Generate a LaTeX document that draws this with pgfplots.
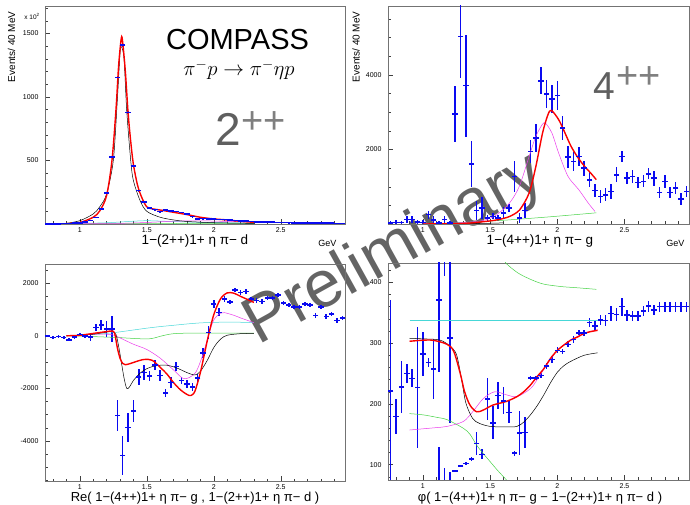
\documentclass[border=0pt]{standalone}
\usepackage{pgfplots}
\usepackage{pgfplotstable}
\pgfplotsset{compat=1.18}
\usepackage{fontspec}
\setmainfont{Liberation Sans}

\definecolor{rblue}{RGB}{10,10,240}
\definecolor{rred}{RGB}{250,0,0}
\definecolor{rgreen}{RGB}{70,210,70}
\definecolor{rcyan}{RGB}{70,215,215}
\definecolor{rmag}{RGB}{235,60,235}
\definecolor{wm}{RGB}{100,100,100}
\definecolor{bigtxt}{RGB}{95,95,95}

% data: bin centre x, value y, error e
\pgfplotstableread{
x y e
0.76 1 1
0.80 2 1
0.84 2 1
0.88 3 1
0.92 4 1
0.96 6 2
1.00 10 2
1.04 16 3
1.08 28 4
1.12 52 5
1.16 118 6
1.20 242 8
1.24 526 10
1.28 1153 14
1.32 1408 15
1.36 877 12
1.40 455 9
1.44 263 7
1.48 171 6
1.52 126 5
1.56 113 5
1.60 98 5
1.64 110 5
1.68 100 5
1.72 97 5
1.76 92 5
1.80 79 4
1.84 58 4
1.88 40 4
1.92 42 4
1.96 40 4
2.00 38 3
2.04 36 3
2.08 35 3
2.12 30 3
2.16 27 3
2.20 24 3
2.24 22 3
2.28 20 3
2.32 18 2
2.36 17 2
2.40 16 2
2.44 14 2
2.48 13 2
2.52 12 2
2.56 11 2
2.60 10 2
2.64 9 2
2.68 9 2
2.72 8 2
2.76 7 2
2.80 7 2
2.84 6 2
2.88 6 2
2.92 5 2
2.96 5 2
}\dtwo

\pgfplotstableread{
x y e
0.76 30 40
0.80 45 50
0.84 40 50
0.88 116 90
0.92 120 90
0.96 50 50
1.00 40 60
1.04 250 110
1.08 110 100
1.12 30 50
1.16 116 100
1.20 25 50
1.24 2946 750
1.28 5027 1100
1.32 3714 1370
1.36 1616 620
1.40 366 250
1.44 428 300
1.48 160 90
1.52 205 80
1.56 160 80
1.60 295 150
1.64 428 100
1.68 1277 420
1.72 160 130
1.76 357 200
1.80 1946 320
1.84 2304 370
1.88 3840 360
1.92 3482 370
1.96 3348 370
2.00 3446 380
2.04 2571 330
2.08 1795 300
2.12 1679 250
2.16 1813 250
2.20 1500 200
2.24 1188 200
2.28 902 180
2.32 741 180
2.36 786 180
2.40 875 200
2.44 1321 200
2.48 1813 150
2.52 1232 170
2.56 1277 170
2.60 1116 150
2.64 1143 160
2.68 1348 150
2.72 1232 200
2.76 848 150
2.80 1143 170
2.84 848 150
2.88 964 160
2.92 670 150
2.96 875 150
}\dfour

\pgfplotstableread{
x y e
0.76 0 40
0.80 -63 40
0.84 -25 40
0.88 -63 40
0.92 -152 60
0.96 -50 60
1.00 50 60
1.04 0 80
1.08 -50 150
1.12 317 150
1.16 418 200
1.20 254 300
1.24 254 500
1.28 -3030 600
1.32 -4552 730
1.36 -3487 560
1.40 -2853 410
1.44 -1572 300
1.48 -1395 270
1.52 -1522 200
1.56 -1103 180
1.60 -1509 200
1.64 -2181 150
1.68 -1775 200
1.72 -1167 170
1.76 -1699 150
1.80 -1826 150
1.84 -1953 150
1.88 -1610 150
1.92 -659 200
1.96 127 250
2.00 1217 150
2.04 888 150
2.08 1395 100
2.12 1281 80
2.16 1750 80
2.20 1648 80
2.24 1686 80
2.28 1395 80
2.32 1344 80
2.36 1306 80
2.40 1433 80
2.44 1433 80
2.48 1560 80
2.52 1243 80
2.56 1179 80
2.60 1090 80
2.64 1090 80
2.68 1217 80
2.72 1179 80
2.76 773 80
2.80 1090 80
2.84 735 80
2.88 824 80
2.92 583 80
2.96 672 80
}\dre

\pgfplotstableread{
x y e
0.76 221 150
0.80 179 29
0.84 228 43
0.88 250 15
0.92 242 15
0.96 227 100
1.00 282 36
1.04 268 8
1.08 257 49
1.12 371 118
1.16 432 22
1.20 308 140
1.12 11 118
1.16 72 22
1.20 -52 140
1.24 90 2
1.28 98 2
1.32 102 2
1.36 109 3
1.40 135 19
1.44 117 8
1.48 208 35
1.52 169 27
1.56 214 22
1.60 205 22
1.64 186 18
1.68 119 4
1.72 152 36
1.76 153 26
1.80 243 3
1.84 243 3
1.88 247 4
1.92 262 5
1.96 273 5
2.00 288 5
2.04 286 4
2.08 298 5
2.12 306 5
2.16 317 4
2.20 317 5
2.24 334 8
2.28 328 8
2.32 338 9
2.36 337 9
2.40 349 12
2.44 347 10
2.48 360 15
2.52 346 9
2.56 345 8
2.60 345 8
2.64 353 8
2.68 361 9
2.72 354 8
2.76 360 8
2.80 360 8
2.84 360 8
2.88 360 8
2.92 360 8
2.96 360 8
}\dphi

\pgfplotsset{
  pad/.style={
    scale only axis, width=301pt, height=218pt,
    xmin=0.74, xmax=2.98,
    xtick={1,1.5,2,2.5},
    minor xtick={0.8,0.9,1.1,1.2,1.3,1.4,1.6,1.7,1.8,1.9,2.1,2.2,2.3,2.4,2.6,2.7,2.8,2.9},
    tick align=inside, tick pos=left,
    major tick length=5pt, minor tick length=2.5pt,
    every tick/.style={black!75, line width=0.4pt},
    axis line style={black!55, line width=0.5pt},
    ticklabel style={font=\fontsize{7}{8}\selectfont},
    yticklabel style={xshift=-3pt},
    /pgf/number format/assume math mode=true,
    /pgf/number format/1000 sep={},
    scaled ticks=false,
  },
  % ROOT crosses: horizontal bin bar as mark, vertical error bar
  pts/.style={color=rblue, only marks, mark=-, mark size=2.7pt,
    mark options={line width=1.6pt},
    error bars/.cd, y dir=both, y explicit, error mark=none,
    error bar style={line width=1.6pt}},
  fitred/.style={rred, line width=1.4pt, smooth, no marks},
  comp/.style={line width=0.5pt, smooth, no marks},
}

\begin{document}
\begin{tikzpicture}
\path[use as bounding box] (0pt,0pt) rectangle (690pt,505pt);

% watermark behind the pads
\node[text=wm, rotate=29, font=\fontsize{66}{66}\selectfont] at (395pt,254pt) {Preliminary};

% ---------------- top left: 2++ intensity
\begin{axis}[pad, at={(45pt,281pt)}, anchor=south west, width=300pt,
  ymin=0, ymax=1716, ytick={500,1000,1500}, minor ytick={100,200,...,1700}]
\addplot[pts] table[x=x, y=y, y error=e] {\dtwo};
\addplot[comp, rgreen] coordinates {(0.9,2) (1.3,3) (1.8,4) (2.3,4)};
\addplot[comp, rcyan] coordinates {(0.9,2) (1.2,10) (1.4,22) (1.5,26) (1.6,23) (1.8,16) (2.0,11) (2.3,6)};
\addplot[comp, rmag] coordinates {(0.9,1) (1.3,5) (1.5,12) (1.7,22) (1.9,25) (2.1,20) (2.3,15)};
\addplot[comp, black] coordinates {
(0.9,5) (1.0,26) (1.1,79) (1.15,137) (1.2,237) (1.25,500) (1.28,974) (1.30,1342)
(1.31,1395) (1.33,1303) (1.35,895) (1.38,500) (1.40,342) (1.45,184) (1.5,100)
(1.6,53) (1.7,32) (1.8,20) (2.0,10) (2.3,5)};
\addplot[fitred] coordinates {
(0.9,3) (1.0,12) (1.1,53) (1.15,105) (1.2,224) (1.24,500) (1.27,900) (1.29,1250)
(1.31,1465) (1.32,1430) (1.34,1200) (1.36,880) (1.38,650) (1.40,470) (1.43,310)
(1.46,215) (1.5,135) (1.55,118) (1.6,110) (1.7,92) (1.8,74) (1.9,53) (2.0,40)
(2.1,32) (2.2,21) (2.3,13)};
\end{axis}

% ---------------- top right: 4++ intensity
\begin{axis}[pad, at={(388pt,281pt)}, anchor=south west,
  ymin=0, ymax=5850, ytick={2000,4000}, minor ytick={500,1000,...,5500}]
\addplot[pts] table[x=x, y=y, y error=e] {\dfour};
\addplot[comp, black] coordinates {(1.0,0) (1.3,5) (1.5,20) (1.6,30)};
\addplot[comp, rgreen] coordinates {(1.0,0) (1.3,40) (1.6,100) (1.9,180) (2.1,240) (2.29,300)};
\addplot[comp, rmag] coordinates {
(1.0,5) (1.2,20) (1.3,40) (1.4,70) (1.47,115) (1.55,250) (1.644,562) (1.717,1008)
(1.79,1812) (1.84,2348) (1.89,2680) (1.913,2700) (1.96,2440) (2.01,1903) (2.08,1276)
(2.16,919) (2.23,563) (2.28,338)};
\addplot[fitred] coordinates {
(1.0,0) (1.3,15) (1.47,70) (1.55,110) (1.6,150) (1.65,210) (1.72,380) (1.79,830)
(1.84,1540) (1.89,2440) (1.93,2930) (1.956,3050) (2.01,2800) (2.05,2500) (2.1,2100)
(2.15,1800) (2.2,1560) (2.25,1360) (2.29,1190)};
\end{axis}

% ---------------- bottom left: Re interference
\begin{axis}[pad, at={(45pt,23.5pt)}, anchor=south west, width=300pt, height=217.5pt,
  ymin=-5540, ymax=2730, ytick={-4000,-2000,0,2000}, minor ytick={-5500,-5000,...,2500}]
\addplot[pts] table[x=x, y=y, y error=e] {\dre};
\addplot[comp, rcyan] coordinates {
(0.9,0) (1.0,20) (1.1,50) (1.2,90) (1.3,150) (1.4,220) (1.5,290) (1.6,350)
(1.7,400) (1.8,450) (1.9,490) (2.0,510) (2.1,520) (2.2,515) (2.3,500)};
\addplot[comp, rgreen] coordinates {
(0.9,0) (1.0,-10) (1.1,-30) (1.2,-50) (1.3,-70) (1.4,-100) (1.5,-120) (1.55,-90)
(1.6,-20) (1.65,40) (1.7,80) (1.8,100) (2.0,105) (2.3,100)};
\addplot[comp, rmag] coordinates {
(0.9,0) (1.0,20) (1.1,60) (1.2,60) (1.25,30) (1.3,-80) (1.4,-320) (1.5,-520)
(1.6,-850) (1.7,-1300) (1.77,-1620) (1.82,-1580) (1.87,-1350) (1.92,-700) (1.96,0)
(2.0,600) (2.05,860) (2.08,880) (2.15,780) (2.2,680) (2.3,500)};
\addplot[comp, black] coordinates {
(0.9,0) (1.0,20) (1.1,60) (1.2,140) (1.24,170) (1.27,50) (1.29,-400) (1.31,-1000)
(1.33,-1600) (1.35,-2000) (1.37,-1950) (1.40,-1700) (1.45,-1420) (1.5,-1250)
(1.55,-1160) (1.6,-1120) (1.65,-1120) (1.7,-1180) (1.75,-1280) (1.8,-1400)
(1.86,-1490) (1.9,-1350) (1.95,-950) (2.0,-450) (2.05,-130) (2.1,20) (2.2,80) (2.3,90)};
\addplot[fitred] coordinates {
(0.9,0) (1.0,20) (1.1,90) (1.2,160) (1.24,180) (1.26,100) (1.28,-450) (1.30,-850)
(1.32,-1050) (1.34,-1100) (1.38,-1050) (1.42,-980) (1.48,-900) (1.54,-930) (1.6,-1200)
(1.65,-1450) (1.7,-1780) (1.75,-2050) (1.8,-2230) (1.83,-2270) (1.86,-2100) (1.9,-1400)
(1.93,-700) (1.96,0) (2.0,800) (2.05,1400) (2.1,1630) (2.15,1620) (2.2,1500) (2.3,1270)};
\end{axis}

% ---------------- bottom right: relative phase
\begin{axis}[pad, at={(388pt,25pt)}, anchor=south west, height=217pt,
  ymin=74.8, ymax=431.8, ytick={100,200,300,400}, minor ytick={80,100,...,420}]
\addplot[pts] table[x=x, y=y, y error=e] {\dphi};
\addplot[comp, rcyan, line width=0.9pt] coordinates {(0.9,337) (1.6,337) (2.3,337)};
\addplot[comp, rgreen] coordinates {
(1.55,460) (1.58,445) (1.62,431) (1.71,415) (1.81,404) (1.90,397) (2.03,393)
(2.15,391) (2.29,388.5)};
\addplot[comp, rgreen] coordinates {
(0.9,184) (1.0,182) (1.1,178) (1.18,174) (1.3,160) (1.35,150) (1.4,132) (1.45,118)
(1.5,105) (1.55,92) (1.6,80) (1.66,66)};
\addplot[comp, rmag] coordinates {
(0.9,157) (1.0,159) (1.1,161) (1.18,163) (1.30,171) (1.37,187) (1.45,209) (1.535,220)
(1.62,215) (1.7,212) (1.8,225) (1.85,240) (1.9,257) (2.0,288) (2.1,305) (2.2,316) (2.3,322)};
\addplot[comp, black] coordinates {
(0.9,308) (1.0,307) (1.1,306) (1.15,303) (1.2,295) (1.25,281) (1.29,237) (1.32,201)
(1.37,176) (1.42,168) (1.50,163) (1.62,162) (1.7,163) (1.75,170) (1.8,182) (1.85,197)
(1.9,215) (1.95,235) (2.0,252) (2.05,263) (2.1,270) (2.2,280) (2.3,284)};
\addplot[fitred] coordinates {
(0.9,303) (1.06,305) (1.18,298) (1.23,286) (1.28,248) (1.31,220) (1.35,198) (1.40,187)
(1.45,190) (1.52,198) (1.62,204) (1.7,212) (1.75,220) (1.8,231) (1.85,245) (1.9,258)
(1.95,275) (2.0,288) (2.05,297) (2.1,305) (2.15,310) (2.2,316) (2.25,319) (2.3,321)};
\end{axis}

% ---------------- texts
\node[rotate=90, anchor=east, font=\fontsize{10}{11}\selectfont] at (11.5pt,497pt) {Events/ 40 MeV};
\node[rotate=90, anchor=east, font=\fontsize{10}{11}\selectfont] at (356pt,497pt) {Events/ 40 MeV};
\node[font=\fontsize{6.5}{7}\selectfont] at (32pt,488.5pt) {x 10\textsuperscript{2}};
\node[font=\fontsize{13.5}{14}\selectfont] at (195pt,264pt) {1−(2++)1+ η π− d};
\node[font=\fontsize{13.5}{14}\selectfont] at (540pt,264pt) {1−(4++)1+ η π− g};
\node[anchor=east, font=\fontsize{9}{10}\selectfont] at (340pt,262pt) {GeV};
\node[anchor=east, font=\fontsize{9}{10}\selectfont] at (688pt,262pt) {GeV};
\node[font=\fontsize{13}{14}\selectfont] at (195pt,7pt) {Re( 1−(4++)1+ η π− g , 1−(2++)1+ η π− d )};
\node[font=\fontsize{13}{14}\selectfont] at (540pt,7pt) {φ( 1−(4++)1+ η π− g − 1−(2++)1+ η π− d )};
\node[font=\fontsize{29}{30}\selectfont] at (237.5pt,465pt) {COMPASS};
\node[font=\fontsize{22}{24}\selectfont] at (239pt,435pt) {$\pi^-p\rightarrow\pi^-\eta p$};
\node[text=bigtxt, anchor=base west, font=\fontsize{46}{46}\selectfont] at (212pt,359pt) {2};
\node[text=bigtxt!80, anchor=base west, font=\fontsize{38}{38}\selectfont] at (238pt,371.5pt) {++};
\node[text=bigtxt, anchor=base west, font=\fontsize{39}{39}\selectfont] at (590pt,405pt) {4};
\node[text=bigtxt!80, anchor=base west, font=\fontsize{38}{38}\selectfont] at (613pt,416pt) {++};
\end{tikzpicture}
\end{document}
